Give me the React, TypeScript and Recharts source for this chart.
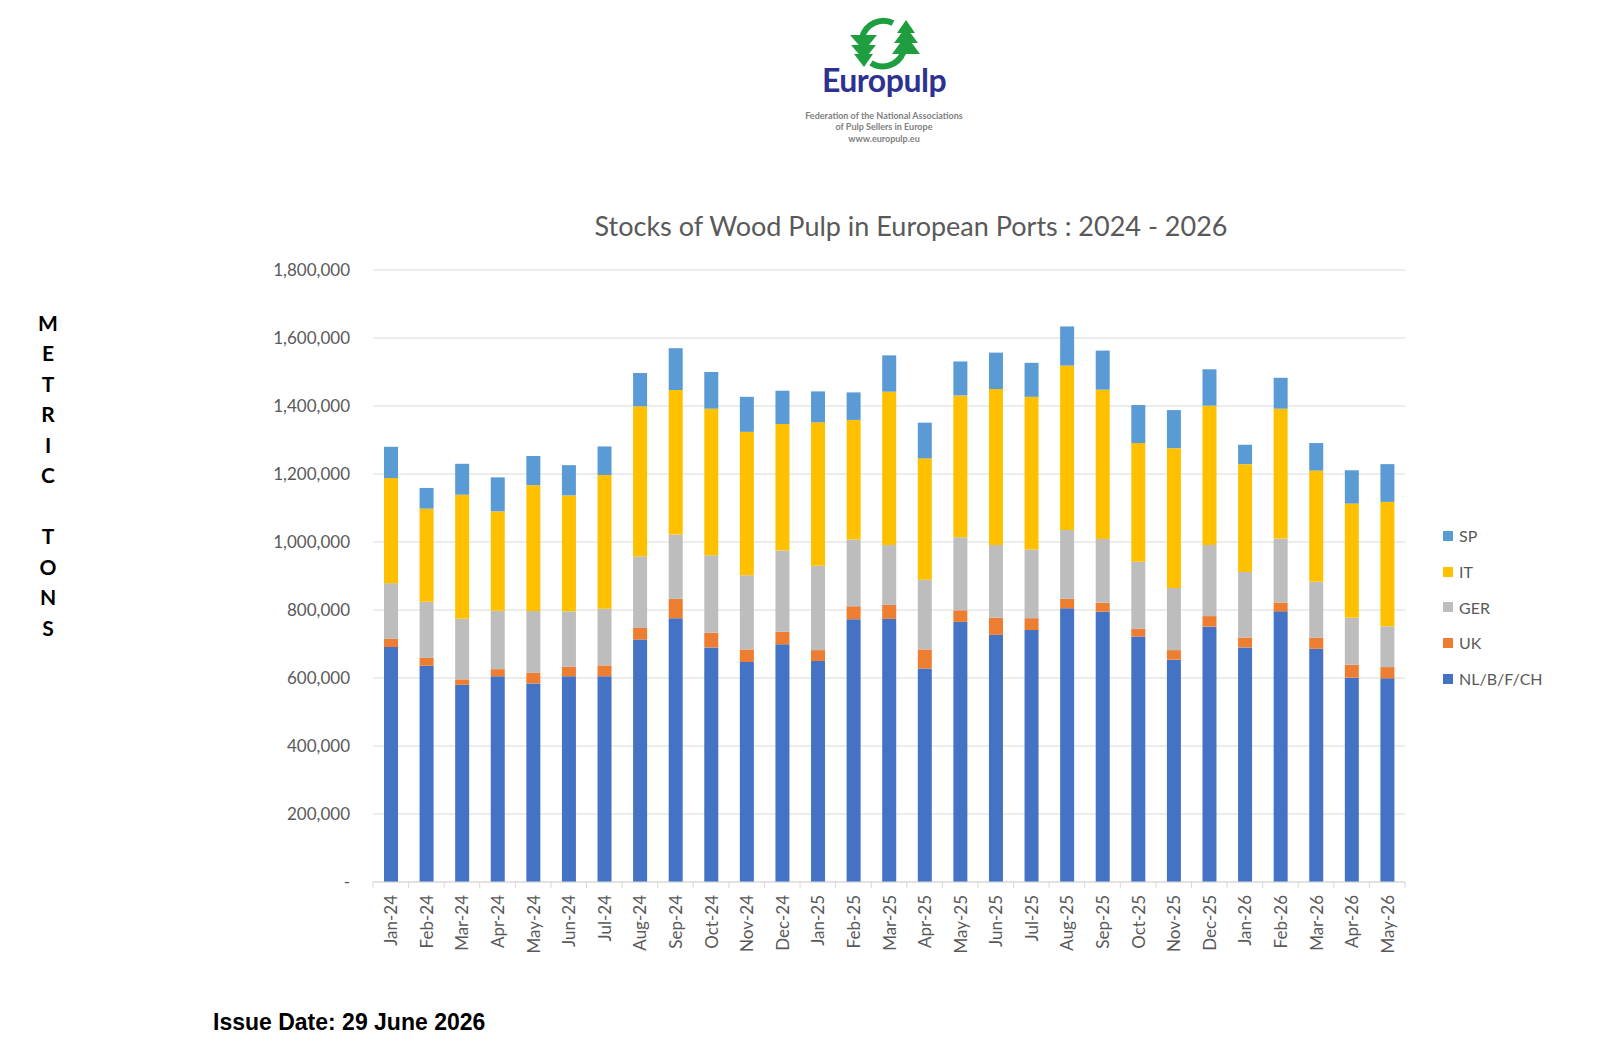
import { BarChart, Bar, XAxis, YAxis, CartesianGrid } from "recharts";

// Stocks in metric tons
const months = [
  "Jan-24", "Feb-24", "Mar-24", "Apr-24", "May-24", "Jun-24", "Jul-24", "Aug-24", "Sep-24", "Oct-24",
  "Nov-24", "Dec-24", "Jan-25", "Feb-25", "Mar-25", "Apr-25", "May-25", "Jun-25", "Jul-25", "Aug-25",
  "Sep-25", "Oct-25", "Nov-25", "Dec-25", "Jan-26", "Feb-26", "Mar-26", "Apr-26", "May-26",
];
const nlbfch = [
  691000, 636000, 580000, 605000, 584000, 605000, 605000, 713000, 776000, 690000,
  647000, 699000, 650000, 773000, 774000, 628000, 765000, 727000, 741000, 805000,
  795000, 722000, 654000, 751000, 690000, 796000, 686000, 601000, 599000,
];
const uk = [
  24000, 23000, 16000, 21000, 31000, 28000, 32000, 34000, 57000, 43000,
  37000, 37000, 32000, 38000, 41000, 56000, 34000, 50000, 35000, 28000,
  26000, 23000, 28000, 31000, 29000, 26000, 32000, 38000, 33000,
];
const ger = [
  164000, 165000, 178000, 172000, 182000, 163000, 167000, 210000, 189000, 228000,
  218000, 239000, 248000, 196000, 176000, 205000, 215000, 214000, 202000, 202000,
  188000, 197000, 183000, 209000, 193000, 188000, 165000, 138000, 120000,
];
const it = [
  309000, 274000, 365000, 292000, 370000, 341000, 393000, 442000, 425000, 431000,
  422000, 372000, 422000, 352000, 451000, 357000, 417000, 459000, 449000, 484000,
  439000, 349000, 411000, 410000, 317000, 382000, 327000, 336000, 366000,
];
const sp = [
  92000, 61000, 91000, 100000, 86000, 89000, 84000, 98000, 123000, 108000,
  103000, 98000, 91000, 81000, 107000, 105000, 100000, 107000, 100000, 115000,
  115000, 112000, 112000, 107000, 57000, 91000, 81000, 98000, 111000,
];
const yTicks = [0, 200000, 400000, 600000, 800000, 1000000, 1200000, 1400000, 1600000, 1800000];

const series = [
  { key: "nl", name: "NL/B/F/CH", color: "#4472C4" },
  { key: "uk", name: "UK", color: "#ED7D31" },
  { key: "ger", name: "GER", color: "#BDBDBD" },
  { key: "it", name: "IT", color: "#FFC000" },
  { key: "sp", name: "SP", color: "#5B9BD5" },
];

const data = months.map((m, i) => ({
  month: m,
  nl: nlbfch[i],
  uk: uk[i],
  ger: ger[i],
  it: it[i],
  sp: sp[i],
}));

const W = 1600;
const H = 1059;
const PLOT_LEFT = 373;
const PLOT_RIGHT = 1405;
const PLOT_TOP = 270;
const PLOT_BOTTOM = 882;
const BAND = (PLOT_RIGHT - PLOT_LEFT) / months.length;
const GREY = "#595959";
const FONT = "Lato, 'Open Sans', sans-serif";

const XTick = (props: any) => {
  const { x, y, payload, index } = props;
  const half = BAND / 2;
  return (
    <g>
      <line x1={x - half} y1={y} x2={x - half} y2={y + 6} stroke="#d9d9d9" />
      {index === months.length - 1 && (
        <line x1={x + half} y1={y} x2={x + half} y2={y + 6} stroke="#d9d9d9" />
      )}
      <text
        transform={`translate(${x},${y + 13}) rotate(-90)`}
        textAnchor="end"
        dominantBaseline="central"
        fill={GREY}
        fontSize={17}
        fontFamily={FONT}
      >
        {payload.value}
      </text>
    </g>
  );
};

const ChartLegend = () => (
  <div style={{ position: "absolute", left: 1443, top: 518, fontFamily: FONT, fontSize: 16, color: GREY }}>
    {[...series].reverse().map((s) => (
      <div key={s.key} style={{ height: 35.7, display: "flex", alignItems: "center", whiteSpace: "nowrap" }}>
        <span style={{ width: 10, height: 10, background: s.color, display: "inline-block", marginRight: 6 }} />
        <span>{s.name}</span>
      </div>
    ))}
  </div>
);

const Logo = () => (
  <svg width={W} height={150} style={{ position: "absolute", left: 0, top: 0 }}>
    <g fill="#1E9E3E" stroke="none">
      <path d="M 893 23 A 22 22 0 0 0 862 38" fill="none" stroke="#1E9E3E" strokeWidth={6} />
      <polygon points="864,67 854,54 873,54" />
      <polygon points="864,60 851,45 876,45" />
      <polygon points="864,51 850,35 877,35" />
      <path d="M 871 63 A 22 22 0 0 0 903 53" fill="none" stroke="#1E9E3E" strokeWidth={6} />
      <polygon points="906,20 897,33 915,33" />
      <polygon points="906,27 894,43 918,43" />
      <polygon points="906,35 892,54 920,54" />
    </g>
  </svg>
);

export default function App() {
  const letters = ["M", "E", "T", "R", "I", "C", "", "T", "O", "N", "S"];
  return (
    <div style={{ position: "absolute", left: 0, top: 0, width: W, height: H, background: "#fff" }}>
      <Logo />
      <div
        style={{
          position: "absolute", left: 884, top: 62, transform: "translateX(-50%)",
          fontFamily: FONT, fontWeight: 700, fontSize: 32, color: "#2E3192", lineHeight: "36px",
          whiteSpace: "nowrap", letterSpacing: -0.5,
        }}
      >
        Europulp
      </div>
      <div
        style={{
          position: "absolute", left: 884, top: 111, transform: "translateX(-50%)", textAlign: "center",
          fontFamily: FONT, fontWeight: 700, fontSize: 9, color: "#808080", lineHeight: "10.5px", whiteSpace: "nowrap",
        }}
      >
        <div>Federation of the National Associations</div>
        <div>of Pulp Sellers in Europe</div>
        <div style={{ marginTop: 1.5 }}>www.europulp.eu</div>
      </div>
      <div
        style={{
          position: "absolute", left: 911, top: 210, transform: "translateX(-50%)",
          fontFamily: FONT, fontSize: 27, color: GREY, lineHeight: "32px", whiteSpace: "nowrap",
        }}
      >
        Stocks of Wood Pulp in European Ports : 2024 - 2026
      </div>
      <div
        style={{
          position: "absolute", left: 28, top: 307.75, width: 40, textAlign: "center",
          fontFamily: FONT, fontWeight: 700, fontSize: 21, color: "#000",
        }}
      >
        {letters.map((l, i) => (
          <div key={i} style={{ height: 30.5, lineHeight: "30.5px" }}>{l || "\u00a0"}</div>
        ))}
      </div>
      <div
        style={{
          position: "absolute", left: 213, top: 1009,
          fontFamily: "'Liberation Sans', Arial, sans-serif", fontWeight: 700, fontSize: 23, color: "#000",
          lineHeight: "26px", whiteSpace: "nowrap",
        }}
      >
        Issue Date: 29 June 2026
      </div>
      <div style={{ position: "absolute", left: 0, top: 0 }}>
        <BarChart
          width={W}
          height={H}
          data={data}
          margin={{ top: PLOT_TOP, right: W - PLOT_RIGHT, bottom: H - PLOT_BOTTOM - 60, left: PLOT_LEFT - 100 }}
        >
          <CartesianGrid vertical={false} stroke="#d9d9d9" />
          <XAxis
            dataKey="month"
            interval={0}
            height={60}
            tickLine={false}
            tickSize={0}
            tickMargin={0}
            axisLine={{ stroke: "#d9d9d9" }}
            tick={<XTick />}
          />
          <YAxis
            width={100}
            domain={[0, 1800000]}
            ticks={yTicks}
            interval={0}
            axisLine={false}
            tickLine={false}
            tickSize={0}
            tickMargin={23}
            tickFormatter={(v: number) => (v === 0 ? "-" : v.toLocaleString("en-US"))}
            tick={{ fill: GREY, fontSize: 17, fontFamily: FONT }}
          />
          {series.map((s) => (
            <Bar
              key={s.key}
              dataKey={s.key}
              name={s.name}
              stackId="stock"
              fill={s.color}
              barSize={14}
              isAnimationActive={false}
            />
          ))}
        </BarChart>
      </div>
      <ChartLegend />
    </div>
  );
}
